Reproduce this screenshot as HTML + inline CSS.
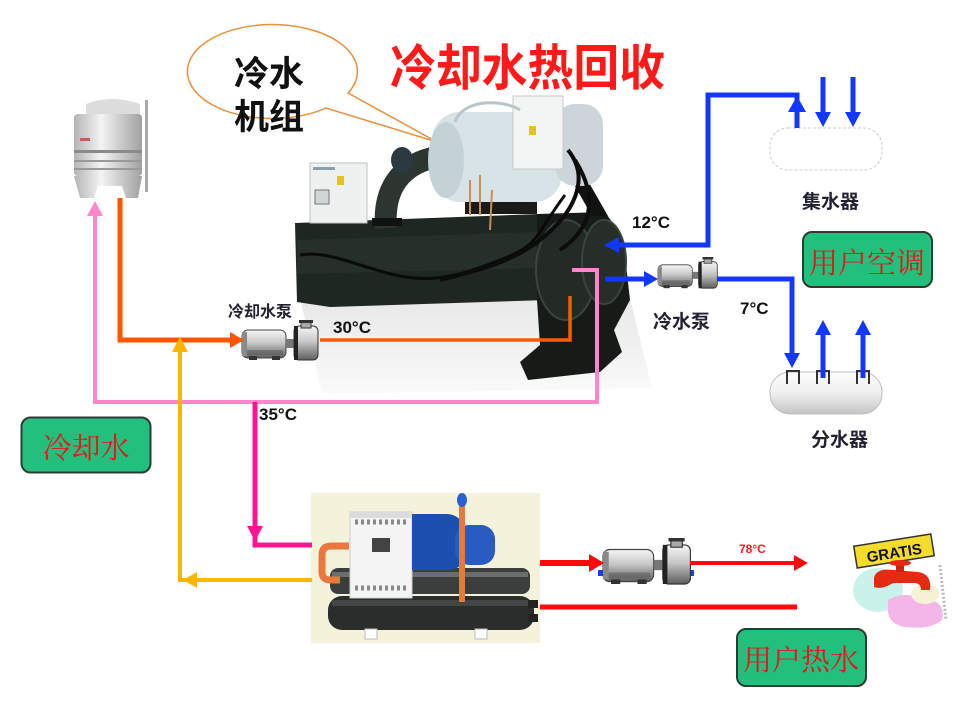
<!DOCTYPE html>
<html><head><meta charset="utf-8">
<style>
html,body{margin:0;padding:0;background:#fff;}
svg{display:block;}
.lat{font-family:"Liberation Sans",sans-serif;font-weight:bold;}
.cjk{font-family:"Liberation Sans","Noto Sans CJK SC",sans-serif;font-weight:bold;}
.song{font-family:"Liberation Serif","Noto Serif CJK SC",serif;}
</style></head><body>
<svg width="959" height="708" viewBox="0 0 959 708" xmlns="http://www.w3.org/2000/svg">
<defs>
 <linearGradient id="metal" x1="0" y1="0" x2="0" y2="1">
  <stop offset="0" stop-color="#f6f6f6"/><stop offset="0.45" stop-color="#c8c8c8"/><stop offset="1" stop-color="#5e5e5e"/>
 </linearGradient>
 <linearGradient id="tower" x1="0" y1="0" x2="1" y2="0">
  <stop offset="0" stop-color="#b4b4b4"/><stop offset="0.4" stop-color="#f4f4f4"/><stop offset="1" stop-color="#a0a0a0"/>
 </linearGradient>
 <linearGradient id="tank" x1="0" y1="0" x2="0" y2="1">
  <stop offset="0" stop-color="#fdfdfd"/><stop offset="0.5" stop-color="#efefef"/><stop offset="1" stop-color="#c4c4c4"/>
 </linearGradient>
 <linearGradient id="floor" x1="0" y1="0" x2="0" y2="1">
  <stop offset="0" stop-color="#e6e6e6"/><stop offset="1" stop-color="#fafafa"/>
 </linearGradient>
 <g id="pump">
  <rect x="0" y="10" width="44" height="28" rx="6" fill="url(#metal)" stroke="#444" stroke-width="1"/>
  <rect x="0" y="12" width="5" height="24" fill="#8a8a8a"/>
  <rect x="5" y="30" width="36" height="5" fill="#555" opacity="0.5"/>
  <rect x="7" y="36" width="8" height="4" fill="#333"/>
  <rect x="30" y="36" width="8" height="4" fill="#333"/>
  <rect x="44" y="19" width="8" height="9" fill="#777"/>
  <rect x="52" y="6" width="24" height="34" rx="5" fill="url(#metal)" stroke="#333" stroke-width="1"/>
  <rect x="52" y="6" width="4" height="34" fill="#222"/>
  <rect x="59" y="2" width="10" height="6" fill="#aaa" stroke="#333" stroke-width="1"/>
  <rect x="57" y="0" width="14" height="3" fill="#333"/>
 </g>
</defs>

<!-- Title -->
<text x="390" y="85" class="cjk" font-size="49" fill="#ff1a1a" textLength="275" lengthAdjust="spacingAndGlyphs">冷却水热回收</text>

<!-- Speech bubble -->
<path d="M348,93 L437,142 L326,108 A85,47 0 1 1 348,93 Z" fill="#fff" stroke="#e8903c" stroke-width="1.5"/>
<text x="234" y="86" class="cjk" font-size="35" fill="#111">冷水</text>
<text x="234" y="129" class="cjk" font-size="35" fill="#111">机组</text>

<!-- Cooling tower -->
<rect x="145" y="100" width="3" height="92" fill="#a8a8a8"/>
<path d="M86,104 Q112,94 140,104 L140,118 L86,118 Z" fill="#dcdcdc"/>
<rect x="74" y="114" width="68" height="62" rx="4" fill="url(#tower)"/>
<rect x="74" y="150" width="68" height="3" fill="#8a8a8a"/>
<rect x="74" y="160" width="68" height="2" fill="#9a9a9a"/>
<rect x="74" y="168" width="68" height="2" fill="#9a9a9a"/>
<rect x="80" y="138" width="10" height="3" fill="#c06060"/>
<path d="M74,176 L142,176 L138,198 L126,198 L122,186 L98,186 L94,198 L80,198 Z" fill="url(#tower)"/>

<!-- Chiller floor -->
<polygon points="300,298 628,290 652,388 322,394" fill="url(#floor)"/>

<!-- Chiller main body -->
<path d="M295,223 L540,214 L548,214 L548,300 L330,307 L297,302 Z" fill="#1f2722"/>
<path d="M297,240 L540,232 L540,268 L297,274 Z" fill="#2c3730" opacity="0.6"/>
<path d="M537,214 L605,212 L623,238 L630,300 L614,330 L622,352 L600,372 L528,380 L520,362 L540,345 L537,300 Z" fill="#161b18"/>
<ellipse cx="566" cy="270" rx="30" ry="50" fill="#242b27" stroke="#3c443f" stroke-width="2"/>
<ellipse cx="604" cy="262" rx="22" ry="42" fill="#272e2a" stroke="#3c443f" stroke-width="2"/>
<path d="M300,255 C330,250 360,268 400,276 S470,272 505,258 S535,235 565,195" stroke="#0a0a0a" stroke-width="3" fill="none"/>

<!-- Elbow pipe -->
<path d="M386,228 C383,190 400,166 432,158" stroke="#2c352f" stroke-width="22" fill="none"/>
<rect x="372" y="218" width="30" height="8" fill="#111"/>

<!-- Control panel -->
<rect x="310" y="163" width="57" height="60" fill="#eef1ef" stroke="#bcc2c0"/>
<rect x="313" y="167" width="22" height="3" fill="#8aa0b0"/>
<rect x="337" y="176" width="7" height="9" fill="#e8c020"/>
<rect x="315" y="190" width="14" height="14" fill="#cfd6d6" stroke="#777"/>

<!-- Compressor -->
<rect x="465" y="198" width="72" height="16" fill="#1a1a1a"/>
<polygon points="560,160 576,160 608,216 592,216" fill="#121212"/>
<rect x="432" y="112" width="130" height="90" rx="28" fill="#d8e3e8"/>
<ellipse cx="446" cy="160" rx="18" ry="38" fill="#c4d1d7"/>
<ellipse cx="402" cy="160" rx="11" ry="13" fill="#2a3a40"/>
<rect x="555" y="104" width="48" height="82" rx="20" fill="#ccd6da"/>
<rect x="513" y="96" width="50" height="73" fill="#f3f5f5" stroke="#c5caca"/>
<rect x="529" y="126" width="7" height="9" fill="#e8c020"/>
<path d="M455,122 C462,100 500,98 520,110" stroke="#b8c6cc" stroke-width="3" fill="none"/>
<path d="M470,215 L470,180 M480,215 L480,175 M490,230 L492,190" stroke="#c89050" stroke-width="2"/>
<path d="M568,150 C592,180 572,215 540,240 S470,272 440,280" stroke="#0c0c0c" stroke-width="4" fill="none"/>
<path d="M575,160 C600,200 590,230 560,250" stroke="#0c0c0c" stroke-width="4" fill="none"/>

<!-- Lower heat recovery unit -->
<rect x="311" y="493" width="229" height="150" fill="#f5f2dc"/>
<rect x="328" y="596" width="206" height="34" rx="14" fill="#2a2d2c"/>
<rect x="332" y="600" width="198" height="6" fill="#4c504e" opacity="0.7"/>
<rect x="330" y="568" width="200" height="26" rx="8" fill="#3a3e3d"/>
<rect x="332" y="572" width="196" height="5" fill="#6a6e6d"/>
<rect x="350" y="512" width="62" height="86" fill="#f4f4f4" stroke="#cfcfcf"/>
<rect x="350" y="512" width="62" height="6" fill="#dcdcdc"/>
<path d="M355,522 H408 M355,588 H408" stroke="#888" stroke-width="5" stroke-dasharray="3,3"/>
<rect x="372" y="538" width="18" height="14" fill="#444"/>
<path d="M412,514 h35 a18,18 0 0 1 18,18 v22 a16,16 0 0 1 -16,16 h-37 z" fill="#1d4fb0"/>
<rect x="455" y="525" width="40" height="40" rx="14" fill="#2a5cc0"/>
<rect x="459" y="500" width="6" height="102" fill="#e8783c"/>
<ellipse cx="462" cy="500" rx="5" ry="7" fill="#2a60d0"/>
<path d="M349,546 H331 Q322,546 322,555 V572 Q322,580 331,580 H340" stroke="#e8783c" stroke-width="7" fill="none"/>
<rect x="365" y="629" width="12" height="10" fill="#fff" stroke="#bbb"/>
<rect x="475" y="629" width="12" height="10" fill="#fff" stroke="#bbb"/>
<rect x="528" y="600" width="10" height="8" fill="#222"/>
<rect x="528" y="614" width="10" height="8" fill="#222"/>

<!-- Faucet -->
<ellipse cx="878" cy="590" rx="25" ry="22" fill="#c9f3ea"/>
<path d="M888,600 Q905,590 925,600 Q946,600 942,620 Q930,630 905,627 Q888,624 888,610 Z" fill="#f4b5e8"/>
<ellipse cx="925" cy="594" rx="14" ry="10" fill="#f7f1d6"/>
<path d="M940,565 L946,620" stroke="#bbb" stroke-width="3" stroke-dasharray="2,2"/>
<g transform="rotate(-9 894 551)">
<rect x="855" y="540" width="78" height="22" fill="#f4dc2c" stroke="#333" stroke-width="1.5"/>
<text x="894" y="558" text-anchor="middle" class="lat" font-size="15" fill="#111">GRATIS</text>
</g>
<path d="M874,578 Q876,568 893,570 L918,572 Q932,574 930,590 L921,590 Q921,583 914,583 L893,583 Q882,590 874,587 Z" fill="#e52a14"/>
<rect x="896" y="562" width="8" height="10" fill="#d02010"/>
<ellipse cx="900" cy="563" rx="11" ry="3" fill="#e52a14"/>

<!-- Collector tank -->
<rect x="770" y="128" width="112" height="42" rx="18" fill="#fff" stroke="#cccccc" stroke-dasharray="3,2"/>
<!-- Divider tank -->
<rect x="770" y="372" width="112" height="42" rx="20" fill="url(#tank)" stroke="#c0c0c0"/>
<path d="M787,384 V371 H799 V384 M817,384 V371 H829 V384 M857,384 V371 H869 V384" stroke="#333" stroke-width="2" fill="none"/>

<!-- Pumps -->
<use href="#pump" transform="translate(242,320)"/>
<use href="#pump" transform="translate(658,257) scale(0.78)"/>
<rect x="598" y="570" width="8" height="6" fill="#1a3cff"/>
<rect x="686" y="570" width="8" height="6" fill="#1a3cff"/>
<use href="#pump" transform="translate(603,538) scale(1.15)"/>

<!-- Pink (light) loop -->
<polyline points="572,270 597,270 597,402 95,402 95,212" stroke="#ff85cc" stroke-width="4" fill="none"/>
<polygon points="95,201 87,216 103,216" fill="#ff85cc"/>

<!-- Orange cooling water -->
<polyline points="120,198 120,340 232,340" stroke="#ff5500" stroke-width="5" fill="none"/>
<polygon points="244,340 230,332 230,348" fill="#ff5500"/>
<polyline points="320,340 570,340 570,296" stroke="#ff5a00" stroke-width="3.5" fill="none"/>

<!-- Yellow return -->
<polyline points="312,580 180,580 180,350" stroke="#ffb400" stroke-width="4" fill="none"/>
<polygon points="180,337 172,352 188,352" fill="#ffb400"/>
<polygon points="183,580 197,572 197,588" fill="#ffb400"/>

<!-- Magenta 35C -->
<polyline points="255,402 255,545 312,545" stroke="#ff1493" stroke-width="5" fill="none"/>
<polygon points="255,541 247,526 263,526" fill="#ff1493"/>

<!-- Blue lines -->
<polyline points="797,128 797,95 708,95 708,245 618,245" stroke="#1238ff" stroke-width="5" fill="none"/>
<polygon points="797,96 788,112 806,112" fill="#1238ff"/>
<polygon points="604,245 619,237 619,253" fill="#1238ff"/>
<line x1="823" y1="77" x2="823" y2="114" stroke="#1238ff" stroke-width="5"/>
<polygon points="823,127 815,112 831,112" fill="#1238ff"/>
<line x1="853" y1="77" x2="853" y2="114" stroke="#1238ff" stroke-width="5"/>
<polygon points="853,127 845,112 861,112" fill="#1238ff"/>
<line x1="605" y1="279" x2="646" y2="279" stroke="#1238ff" stroke-width="5"/>
<polygon points="658,279 644,271 644,287" fill="#1238ff"/>
<polyline points="717,279 792,279 792,355" stroke="#1238ff" stroke-width="5" fill="none"/>
<polygon points="792,368 784,353 800,353" fill="#1238ff"/>
<line x1="823" y1="378" x2="823" y2="333" stroke="#1238ff" stroke-width="5"/>
<polygon points="823,320 815,335 831,335" fill="#1238ff"/>
<line x1="863" y1="378" x2="863" y2="333" stroke="#1238ff" stroke-width="5"/>
<polygon points="863,320 855,335 871,335" fill="#1238ff"/>

<!-- Red hot water -->
<line x1="540" y1="563" x2="591" y2="563" stroke="#ff0a0a" stroke-width="6"/>
<polygon points="604,563 589,554 589,572" fill="#ff0a0a"/>
<line x1="690" y1="563" x2="795" y2="563" stroke="#ff0a0a" stroke-width="4"/>
<polygon points="808,563 794,555 794,571" fill="#ff0a0a"/>
<line x1="540" y1="607" x2="797" y2="607" stroke="#ff0a0a" stroke-width="5"/>

<!-- Labels -->
<text x="228" y="317" class="cjk" font-size="16" fill="#223">冷却水泵</text>
<text x="333" y="333" class="lat" font-size="17" fill="#111">30°C</text>
<text x="259" y="420" class="lat" font-size="17" fill="#111">35°C</text>
<text x="632" y="228" class="lat" font-size="17" fill="#111">12°C</text>
<text x="740" y="314" class="lat" font-size="17" fill="#111">7°C</text>
<text x="653" y="328" class="cjk" font-size="19" fill="#223">冷水泵</text>
<text x="802" y="208" class="cjk" font-size="19" fill="#223">集水器</text>
<text x="811" y="446" class="cjk" font-size="19" fill="#223">分水器</text>
<text x="739" y="553" class="lat" font-size="12" fill="#ff1a1a">78°C</text>

<!-- Green boxes -->
<rect x="21.5" y="417.5" width="129" height="55" rx="9" fill="#22c07c" stroke="#2e3a34" stroke-width="2"/>
<text x="86" y="458" text-anchor="middle" class="song" font-size="29" fill="#e8141a">冷却水</text>
<rect x="803" y="232" width="129" height="55" rx="9" fill="#22c07c" stroke="#2e3a34" stroke-width="2"/>
<text x="867" y="273" text-anchor="middle" class="song" font-size="29" fill="#e8141a">用户空调</text>
<rect x="737" y="629" width="129" height="57" rx="9" fill="#22c07c" stroke="#2e3a34" stroke-width="2"/>
<text x="801" y="670" text-anchor="middle" class="song" font-size="29" fill="#e8141a">用户热水</text>
</svg>
</body></html>
